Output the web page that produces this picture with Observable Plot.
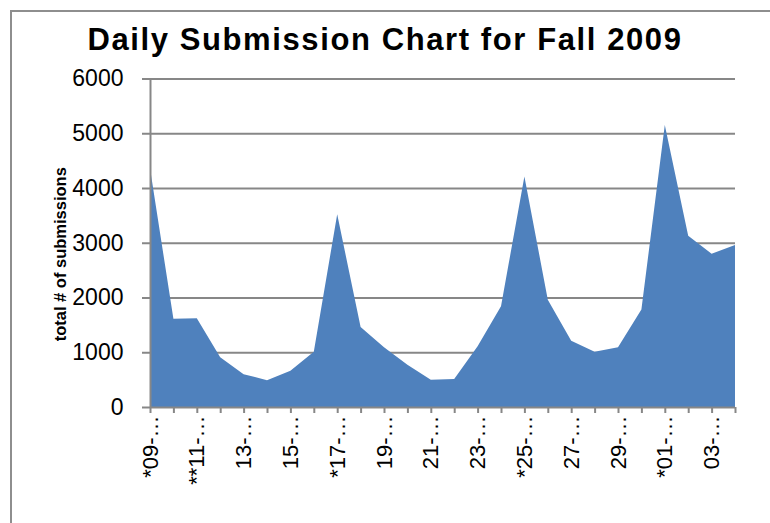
<!DOCTYPE html>
<html>
<head>
<meta charset="utf-8">
<script src="https://cdn.jsdelivr.net/npm/d3@7"></script>
<script src="https://cdn.jsdelivr.net/npm/@observablehq/plot@0.6"></script>
<style>
  html, body { margin: 0; padding: 0; background: #fff; }
  #wrap { position: relative; width: 770px; height: 523px; overflow: hidden; background: #fff; }
  #border { position: absolute; left: 10px; top: 10px; width: 800px; height: 600px; border-left: 2px solid #8e8e8e; border-top: 2px solid #8e8e8e; }
  #title { position: absolute; left: 0; width: 770px; top: 22px; text-align: center; font-family: "Liberation Sans", Arial, sans-serif; font-weight: bold; font-size: 31px; letter-spacing: 1.6px; color: #000; }
  #chart { position: absolute; left: 0; top: 0; }
</style>
</head>
<body>
<div id="wrap">
  <div id="border"></div>
  <div id="chart"></div>
  <div id="title">Daily Submission Chart for Fall 2009</div>
</div>
<script>
const dayLabels = ["*09-…","10-…","**11-…","12-…","13-…","14-…","15-…","16-…","*17-…","18-…","19-…","20-…","21-…","22-…","23-…","24-…","*25-…","26-…","27-…","28-…","29-…","30-…","*01-…","02-…","03-…","04-…"];
const submissions = [4360,1610,1620,910,600,490,660,1010,3520,1460,1090,770,500,510,1110,1840,4210,1960,1210,1010,1090,1780,5150,3130,2800,2960];
const yTicks = [0,1000,2000,3000,4000,5000,6000];
const yLabel = "total # of submissions";

const data = dayLabels.map((d, i) => ({i, label: d, v: submissions[i]}));
const shown = data.filter(d => d.i % 2 === 0);
const grey = "#878787";
const tickFont = "Liberation Sans, Arial, sans-serif";

const chart = Plot.plot({
  width: 770,
  height: 523,
  marginLeft: 150,
  marginRight: 35,
  marginTop: 78.5,
  marginBottom: 116,
  style: {fontFamily: tickFont, background: "transparent", overflow: "visible", color: "#000"},
  x: {type: "linear", domain: [0, dayLabels.length - 1]},
  y: {domain: [0, 6000]},
  marks: [
    Plot.ruleY(yTicks.filter(t => t > 0), {stroke: grey, strokeWidth: 2}),
    Plot.areaY(data, {x: "i", y: "v", fill: "#4F81BD"}),
    Plot.ruleY([0], {stroke: grey, strokeWidth: 2}),
    Plot.ruleX([0], {stroke: grey, strokeWidth: 2}),
    Plot.axisY({ticks: yTicks, tickFormat: () => "", tickSize: 8, stroke: grey, strokeWidth: 2, strokeOpacity: 1, label: null}),
    Plot.axisX({ticks: d3.range(dayLabels.length), tickFormat: () => "", tickSize: 6, stroke: grey, strokeWidth: 2, strokeOpacity: 1, label: null}),
    Plot.text(yTicks, {x: 0, y: d => d, text: d => String(d), textAnchor: "end", dx: -27, fontSize: 23, fontFamily: tickFont, fill: "#000"}),
    Plot.text(shown, {x: "i", y: 0, text: "label", rotate: -90, textAnchor: "end", dy: 8, fontSize: 22, fontFamily: tickFont, fill: "#000"}),
    Plot.text([yLabel], {frameAnchor: "left", textAnchor: "middle", rotate: -90, dx: -90, dy: 11, fontWeight: "bold", fontSize: 16.5, fontFamily: "Liberation Sans, Arial, sans-serif", fill: "#000"})
  ]
});
document.getElementById("chart").appendChild(chart);
</script>
</body>
</html>
